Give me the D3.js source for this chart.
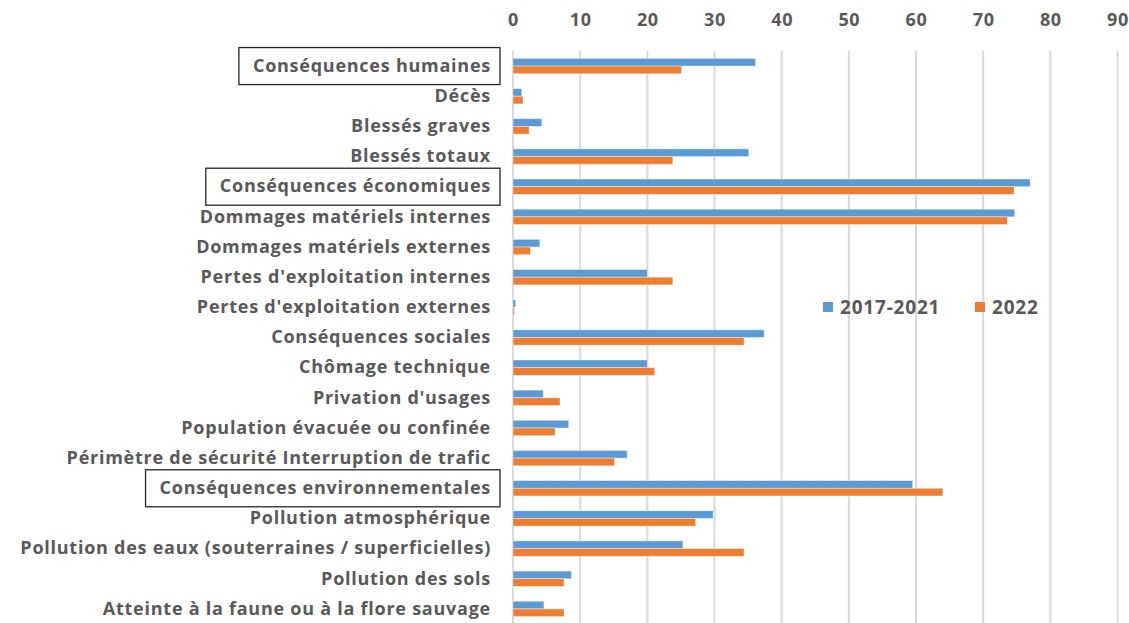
<!DOCTYPE html>
<html>
<head>
<meta charset="utf-8">
<script src="https://cdn.jsdelivr.net/npm/d3@7"></script>
<style>
  body { margin: 0; background: #fff; }
  svg text { font-family: "Open Sans", "Noto Sans", sans-serif; font-weight: 700; fill: #595959; }
</style>
</head>
<body>
<script>
// chart size
var w = 1129;
var h = 623;

// categories (top to bottom)
var categories = [
  "Conséquences humaines",
  "Décès",
  "Blessés graves",
  "Blessés totaux",
  "Conséquences économiques",
  "Dommages matériels internes",
  "Dommages matériels externes",
  "Pertes d'exploitation internes",
  "Pertes d'exploitation externes",
  "Conséquences sociales",
  "Chômage technique",
  "Privation d'usages",
  "Population évacuée ou confinée",
  "Périmètre de sécurité Interruption de trafic",
  "Conséquences environnementales",
  "Pollution atmosphérique",
  "Pollution des eaux (souterraines / superficielles)",
  "Pollution des sols",
  "Atteinte à la faune ou à la flore sauvage"
];

// the boxed headings
var boxed = ["Conséquences humaines", "Conséquences économiques", "Conséquences environnementales"];

// series
var seriesNames = ["2017-2021", "2022"];
var values2017_2021 = [36.1, 1.3, 4.3, 35.1, 77.0, 74.7, 4.0, 20.0, 0.4, 37.4, 20.0, 4.5, 8.3, 17.0, 59.5, 29.8, 25.3, 8.7, 4.6];
var values2022      = [25.1, 1.5, 2.4, 23.8, 74.6, 73.6, 2.6, 23.8, 0.2, 34.4, 21.1, 7.0, 6.25, 15.1, 64.0, 27.2, 34.4, 7.6, 7.6];
var xTicks = [0, 10, 20, 30, 40, 50, 60, 70, 80, 90];

var colors = {"2017-2021": "#5b9bd5", "2022": "#ed7d31"};

// table built from the arrays
var rows = categories.map(function(c, i) {
  return {cat: c, vals: [
    {s: "2017-2021", v: values2017_2021[i]},
    {s: "2022", v: values2022[i]}
  ]};
});

var svg = d3.select("body").append("svg")
  .attr("width", w)
  .attr("height", h);

// scales
var x = d3.scaleLinear()
  .domain([0, 90])
  .range([513, 1117.5]);

var y = d3.scaleBand()
  .domain(categories)
  .range([51, 624])
  .paddingInner(0.49)
  .paddingOuter(0.245);

var y1 = d3.scaleBand()
  .domain(seriesNames)
  .range([0, y.bandwidth()]);

// gridlines
svg.append("g")
  .selectAll("line")
  .data(xTicks)
  .enter().append("line")
  .attr("x1", function(d) { return x(d); })
  .attr("x2", function(d) { return x(d); })
  .attr("y1", 51)
  .attr("y2", h)
  .attr("stroke", "#d9d9d9")
  .attr("stroke-width", 2);

// top axis
var xAxis = svg.append("g")
  .attr("transform", "translate(0,27)")
  .call(d3.axisTop(x).tickValues(xTicks).tickSize(0).tickPadding(1));
xAxis.select(".domain").remove();
xAxis.selectAll("text")
  .style("font-size", "18px")
  .style("letter-spacing", "0.6px")
  .attr("fill", null);

// bars
var groups = svg.append("g")
  .selectAll("g")
  .data(rows)
  .enter().append("g")
  .attr("transform", function(d) { return "translate(0," + y(d.cat) + ")"; });

groups.selectAll("rect")
  .data(function(d) { return d.vals; })
  .enter().append("rect")
  .attr("x", x(0))
  .attr("y", function(d) { return y1(d.s); })
  .attr("width", function(d) { return x(d.v) - x(0); })
  .attr("height", y1.bandwidth())
  .attr("fill", function(d) { return colors[d.s]; })
  .attr("stroke", "#fff")
  .attr("stroke-opacity", 0.5)
  .attr("stroke-width", 0.8);

// category axis
var yAxis = svg.append("g")
  .attr("transform", "translate(" + x(0) + ",0)")
  .call(d3.axisLeft(y).tickSize(0).tickPadding(22));
yAxis.select(".domain").remove();
yAxis.selectAll("text")
  .style("font-size", "18px")
  .style("letter-spacing", "0.75px")
  .attr("fill", null);

// boxes round the headings
yAxis.selectAll(".tick").each(function(d) {
  if (boxed.indexOf(d) < 0) return;
  var t = d3.select(this).select("text").node().getBBox();
  d3.select(this).insert("rect", "text")
    .attr("x", t.x - 14)
    .attr("y", -18.5)
    .attr("width", t.width + 14 + 9)
    .attr("height", 37)
    .attr("fill", "none")
    .attr("stroke", "#262626")
    .attr("stroke-width", 1.3);
});

// legend
var legend = svg.append("g")
  .selectAll("g")
  .data(seriesNames)
  .enter().append("g")
  .attr("transform", function(d, i) { return "translate(" + (823 + i * 152) + ",307)"; });

legend.append("rect")
  .attr("x", 0)
  .attr("y", -5)
  .attr("width", 10)
  .attr("height", 10)
  .attr("fill", function(d) { return colors[d]; });

legend.append("text")
  .attr("x", 17)
  .attr("y", 0)
  .attr("dy", "0.35em")
  .style("font-size", "19px")
  .style("letter-spacing", "0.8px")
  .text(function(d) { return d; });
</script>
</body>
</html>
